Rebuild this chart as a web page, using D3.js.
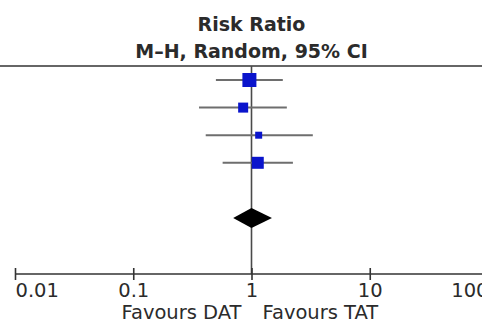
<!DOCTYPE html>
<meta charset="utf-8">
<style>
    body { margin: 0; background: #fff; }
    text { font-family: "DejaVu Sans", Verdana, sans-serif; fill: #2b2b2b; }
    .title { font-weight: bold; font-size: 19px; }
    .tick text { font-size: 19.5px; }
    .favours { font-size: 19.5px; }
</style>
<svg id="f" width="482" height="324"></svg>
<script src="https://cdn.jsdelivr.net/npm/d3@7"></script>
<script>
    // study estimates (risk ratio) and 95% CI, weight in %
    var studyRR = [0.96, 0.85, 1.15, 1.13];
    var studyLo = [0.50, 0.36, 0.41, 0.57];
    var studyHi = [1.84, 1.99, 3.30, 2.24];
    var studyWeight = [40.1, 20.5, 10.0, 29.4];

    // pooled estimate (diamond)
    var totalRR = 1.00, totalLo = 0.70, totalHi = 1.49;

    var tickValues = [0.01, 0.1, 1, 10, 100];
    var tickLabels = ["0.01", "0.1", "1", "10", "100"];
    var titleLines = ["Risk Ratio", "M\u2013H, Random, 95% CI"];
    var favours = ["Favours DAT", "Favours TAT"];

    var svg = d3.select("#f");

    var x = d3.scaleLog().domain([0.01, 100]).range([15, 488]);
    // rows 0..3 are studies, row 4 blank, row 5 total
    var y = d3.scaleLinear().domain([0, 5]).range([80, 218]);
    var size = d3.scaleSqrt().domain([0, 40.1]).range([0, 14]);

    var axisY = 274;

    // title
    svg.selectAll(".title")
        .data(titleLines)
        .enter().append("text")
        .attr("class", "title")
        .attr("x", x(1))
        .attr("y", function (d, i) { return 31 + i * 27; })
        .attr("text-anchor", "middle")
        .text(function (d) { return d; });

    // header rule
    svg.append("line")
        .attr("x1", 0).attr("x2", 482)
        .attr("y1", 66).attr("y2", 66)
        .attr("stroke", "#333").attr("stroke-width", 1.6);

    // line of no effect
    svg.append("line")
        .attr("x1", x(1)).attr("x2", x(1))
        .attr("y1", 66).attr("y2", axisY)
        .attr("stroke", "#4a4a4a").attr("stroke-width", 1.6);

    // axis
    var axis = svg.append("g")
        .attr("transform", "translate(0," + axisY + ")")
        .call(d3.axisBottom(x)
            .tickValues(tickValues)
            .tickFormat(function (d, i) { return tickLabels[i]; })
            .tickSize(6)
            .tickSizeOuter(0));
    axis.select(".domain").attr("stroke", "#333").attr("stroke-width", 1.6)
        .attr("d", "M" + x(0.01) + ",0H482");
    axis.selectAll(".tick line").attr("stroke", "#333").attr("stroke-width", 1.6)
        .attr("y1", -6).attr("y2", 6);
    axis.selectAll(".tick text")
        .attr("y", 9).attr("dy", "0.71em")
        .attr("fill", "#2b2b2b")
        .attr("text-anchor", function (d, i) {
            return i === 0 ? "start" : (i === tickValues.length - 1 ? "end" : "middle");
        });

    // favours labels
    svg.append("text").attr("class", "favours")
        .attr("x", x(1) - 10).attr("y", 319)
        .attr("text-anchor", "end").text(favours[0]);
    svg.append("text").attr("class", "favours")
        .attr("x", x(1) + 11).attr("y", 319)
        .attr("text-anchor", "start").text(favours[1]);

    // confidence intervals
    svg.selectAll(".ci")
        .data(studyRR)
        .enter().append("line")
        .attr("class", "ci")
        .attr("x1", function (d, i) { return x(studyLo[i]); })
        .attr("x2", function (d, i) { return x(studyHi[i]); })
        .attr("y1", function (d, i) { return y(i); })
        .attr("y2", function (d, i) { return y(i); })
        .attr("stroke", "#6e6e6e").attr("stroke-width", 2);

    // weighted squares
    svg.selectAll(".est")
        .data(studyRR)
        .enter().append("rect")
        .attr("class", "est")
        .attr("x", function (d, i) { return x(d) - size(studyWeight[i]) / 2; })
        .attr("y", function (d, i) { return y(i) - size(studyWeight[i]) / 2; })
        .attr("width", function (d, i) { return size(studyWeight[i]); })
        .attr("height", function (d, i) { return size(studyWeight[i]); })
        .attr("fill", "#0a14cc");

    // pooled diamond
    var dy = y(5), h = 10;
    svg.append("path")
        .attr("d", "M" + x(totalLo) + "," + dy +
            "L" + x(totalRR) + "," + (dy - h) +
            "L" + x(totalHi) + "," + dy +
            "L" + x(totalRR) + "," + (dy + h) + "Z")
        .attr("fill", "#000");
</script>
